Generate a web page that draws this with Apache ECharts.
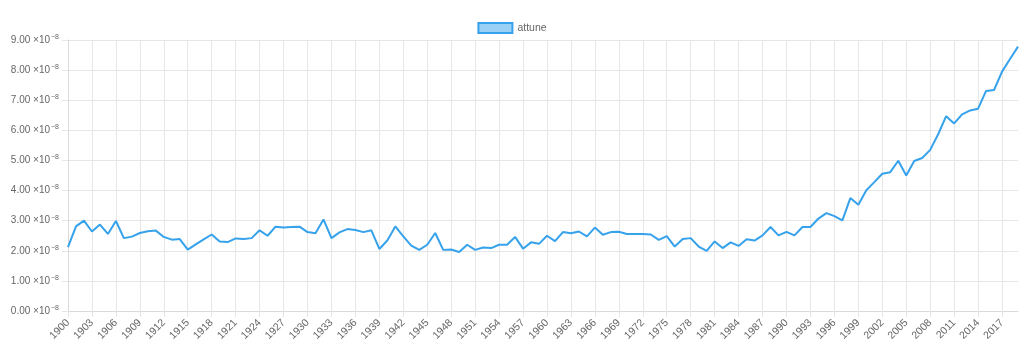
<!DOCTYPE html>
<html>
<head>
<meta charset="utf-8">
<script src="https://cdn.jsdelivr.net/npm/echarts@6/dist/echarts.min.js"></script>
<style>html,body{margin:0;padding:0;background:#fff}#c{width:1024px;height:358px}</style>
</head>
<body>
<div id="c"></div>
<script>
// Years 1900..2019
var years = [];
for (var y = 1900; y <= 2019; y++) years.push(String(y));
// Values in units of 1e-8
var attune = [
2.12,2.81,3.00,2.64,2.87,2.56,2.99,2.42,2.47,2.59,
2.65,2.67,2.46,2.37,2.39,2.04,2.21,2.38,2.54,2.31,
2.29,2.41,2.39,2.42,2.68,2.50,2.80,2.77,2.79,2.80,
2.62,2.58,3.04,2.42,2.61,2.72,2.69,2.62,2.68,2.06,
2.34,2.81,2.48,2.17,2.03,2.20,2.59,2.03,2.04,1.96,
2.20,2.03,2.11,2.09,2.20,2.20,2.46,2.07,2.28,2.23,
2.50,2.32,2.62,2.58,2.64,2.48,2.77,2.53,2.62,2.63,
2.56,2.56,2.56,2.54,2.36,2.49,2.14,2.39,2.42,2.14,
2.00,2.31,2.09,2.28,2.16,2.38,2.34,2.51,2.79,2.51,
2.63,2.51,2.79,2.79,3.07,3.25,3.15,3.01,3.75,3.53,
4.01,4.28,4.56,4.61,4.99,4.50,4.98,5.08,5.35,5.87,
6.47,6.23,6.53,6.66,6.72,7.31,7.34,7.95,8.37,8.78
];
var seriesName = 'attune';
var yMin = 0, yMax = 9, yStep = 1;
var labelEvery = 3;

var chart = echarts.init(document.getElementById('c'));
var gridColor = '#e6e6e6';
var font = 'Liberation Sans, Arial, sans-serif';
function every(i) { return i % labelEvery === 0; }
chart.setOption({
  animation: false,
  legend: {
    top: 17,
    left: 'center',
    itemWidth: 34,
    itemHeight: 10,
    itemGap: 8,
    textStyle: {color: '#666', fontSize: 10.5, fontFamily: font},
    data: [{name: seriesName, icon: 'rect', itemStyle: {color: 'rgba(54,162,235,0.5)', borderColor: '#36a2eb', borderWidth: 2}}]
  },
  grid: {left: 68, right: 6, top: 40, bottom: 47, containLabel: false},
  xAxis: {
    type: 'category',
    data: years,
    boundaryGap: false,
    axisLine: {show: true, lineStyle: {color: '#d9d9d9'}},
    axisTick: {show: true, interval: every, length: 6, lineStyle: {color: gridColor}},
    axisLabel: {interval: every, rotate: 45, color: '#666', fontSize: 10.5, margin: 10, fontFamily: font},
    splitLine: {show: true, interval: every, lineStyle: {color: gridColor}}
  },
  yAxis: {
    type: 'value',
    min: yMin, max: yMax, interval: yStep,
    axisLine: {show: true, lineStyle: {color: '#d9d9d9'}},
    axisTick: {show: true, length: 6, lineStyle: {color: gridColor}},
    axisLabel: {color: '#666', fontSize: 10, margin: 9, fontFamily: font,
      formatter: function (v) { return '{n|' + v.toFixed(2) + ' \u00d710}{s|\u22128}'; },
      rich: {
        n: {color: '#666', fontSize: 10, fontFamily: font},
        s: {color: '#666', fontSize: 7, fontFamily: font, padding: [0, 0, 6, 1]}
      }},
    splitLine: {show: true, lineStyle: {color: gridColor}}
  },
  series: [{
    name: seriesName,
    type: 'line',
    data: attune,
    showSymbol: false,
    symbol: 'none',
    smooth: false,
    itemStyle: {color: 'rgba(54,162,235,0.5)', borderColor: '#36a2eb'},
    lineStyle: {color: '#36a2eb', width: 2}
  }]
});
</script>
</body>
</html>
